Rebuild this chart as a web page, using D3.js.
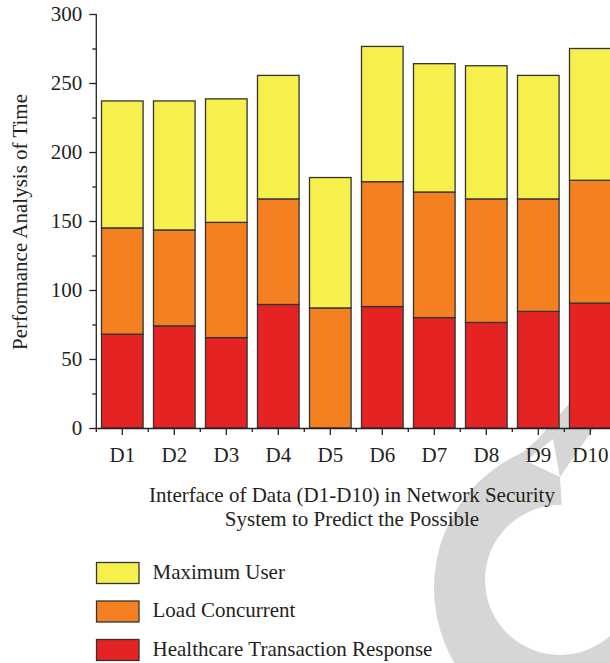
<!DOCTYPE html>
<html>
<head>
<meta charset="utf-8">
<script src="https://cdn.jsdelivr.net/npm/d3@7"></script>
<style>
  html, body { margin: 0; padding: 0; background: #fff; }
  svg { display: block; font-family: "Liberation Serif", "DejaVu Serif", serif; }
</style>
</head>
<body>
<svg id="chart" width="610" height="663"></svg>
<script>
const categories = ["D1","D2","D3","D4","D5","D6","D7","D8","D9","D10"];
const seriesNames = ["Healthcare Transaction Response", "Load Concurrent", "Maximum User"];
const healthcare = [68, 74, 65.5, 89.5, 0, 88, 80, 76.5, 84.5, 90.5];
const loadConcurrent = [77, 69.5, 83.5, 76.5, 87, 90.5, 91, 89.5, 81.5, 89];
const maximumUser = [92, 93.5, 89.5, 89.5, 94.5, 98, 93, 96.5, 89.5, 95.5];
const yTicks = [0, 50, 100, 150, 200, 250, 300];
const yMinorTicks = [25, 75, 125, 175, 225, 275];
const colors = ["#E52323", "#F58021", "#F7EF4C"];
const xTitle = ["Interface of Data (D1-D10) in Network Security", "System to Predict the Possible"];
const yTitle = "Performance Analysis of Time";

const svg = d3.select("#chart");
const FS = 21;

// decorative watermark (publisher logo) behind the chart
const wm = svg.append("g");
const circ = (cx, cy, r) => `M${cx - r},${cy}a${r},${r} 0 1,0 ${2 * r},0a${r},${r} 0 1,0 ${-2 * r},0Z`;
wm.append("path")
  .attr("d", circ(582, 588, 148) + circ(560, 580, 75))
  .attr("fill", "#d6d6d6").attr("fill-rule", "evenodd");
wm.append("path").attr("d", "M560,477L605,405L640,405L640,600L565,560Z").attr("fill", "#fff");
wm.append("path").attr("d", "M520,455L537,440L576,396L616,396L560,477Z").attr("fill", "#d6d6d6");
wm.append("path").attr("d", "M526,461L560,477L553,439Z").attr("fill", "#fff");

const data = categories.map((c, i) => ({cat: c, h: healthcare[i], l: loadConcurrent[i], m: maximumUser[i]}));
const stack = d3.stack().keys(["h", "l", "m"]);
const stacked = stack(data);

const x = d3.scaleBand().domain(categories).range([96.3, 616.3]).paddingInner(0.2).paddingOuter(0.1);
const y = d3.scaleLinear().domain([0, 300]).range([428, 14]);

// bars
stacked.forEach((layer, li) => {
  svg.append("g")
    .selectAll("rect")
    .data(layer.filter(d => d[1] - d[0] > 0))
    .join("rect")
    .attr("x", d => x(d.data.cat))
    .attr("width", x.bandwidth())
    .attr("y", d => y(d[1]))
    .attr("height", d => y(d[0]) - y(d[1]))
    .attr("fill", colors[li])
    .attr("stroke", "#333")
    .attr("stroke-width", 1.3);
});

// y axis
const yAxis = svg.append("g").attr("transform", "translate(96.3,0)");
yAxis.call(d3.axisLeft(y).tickValues(yTicks).tickSize(7).tickPadding(7).tickFormat(d3.format("d")));
yAxis.append("g").call(d3.axisLeft(y).tickValues(yMinorTicks).tickSize(4).tickFormat(""))
  .select(".domain").remove();
yAxis.selectAll("path.domain").attr("d", `M0,${y(0)}V${y(300)}`);
yAxis.selectAll("line, path").attr("stroke", "#222").attr("stroke-width", 1.3);
yAxis.selectAll("text").attr("font-size", FS).attr("fill", "#231f20")
  .attr("font-family", "Liberation Serif, serif");

// x axis
const xAxis = svg.append("g").attr("transform", `translate(0,${y(0)})`);
xAxis.call(d3.axisBottom(x).tickSizeInner(7).tickSizeOuter(0).tickPadding(12));
const boundaries = categories.map(c => x(c) - x.step() * x.paddingInner() / 2);
xAxis.selectAll("line.minor").data(boundaries).join("line")
  .attr("class", "minor").attr("x1", d => d).attr("x2", d => d).attr("y1", 0).attr("y2", 4);
xAxis.selectAll("line, path").attr("stroke", "#222").attr("stroke-width", 1.3);
xAxis.selectAll("text").attr("font-size", FS).attr("fill", "#231f20")
  .attr("font-family", "Liberation Serif, serif");

// axis titles
svg.append("text")
  .attr("transform", "translate(20,222) rotate(-90)")
  .attr("text-anchor", "middle").attr("dy", "0.35em")
  .attr("font-size", FS).attr("fill", "#231f20")
  .text(yTitle);

svg.append("g").selectAll("text").data(xTitle).join("text")
  .attr("x", 352).attr("y", (d, i) => 502 + i * 24)
  .attr("text-anchor", "middle")
  .attr("font-size", FS).attr("fill", "#231f20")
  .text(d => d);

// legend
const legendItems = [
  {name: "Maximum User", color: colors[2]},
  {name: "Load Concurrent", color: colors[1]},
  {name: "Healthcare Transaction Response", color: colors[0]}
];
const lg = svg.append("g").selectAll("g").data(legendItems).join("g")
  .attr("transform", (d, i) => `translate(96.5,${562.5 + i * 38.5})`);
lg.append("rect").attr("width", 42.5).attr("height", 21)
  .attr("fill", d => d.color).attr("stroke", "#333").attr("stroke-width", 1.3);
lg.append("text").attr("x", 56).attr("y", 16)
  .attr("font-size", FS).attr("fill", "#231f20")
  .text(d => d.name);
</script>
</body>
</html>
